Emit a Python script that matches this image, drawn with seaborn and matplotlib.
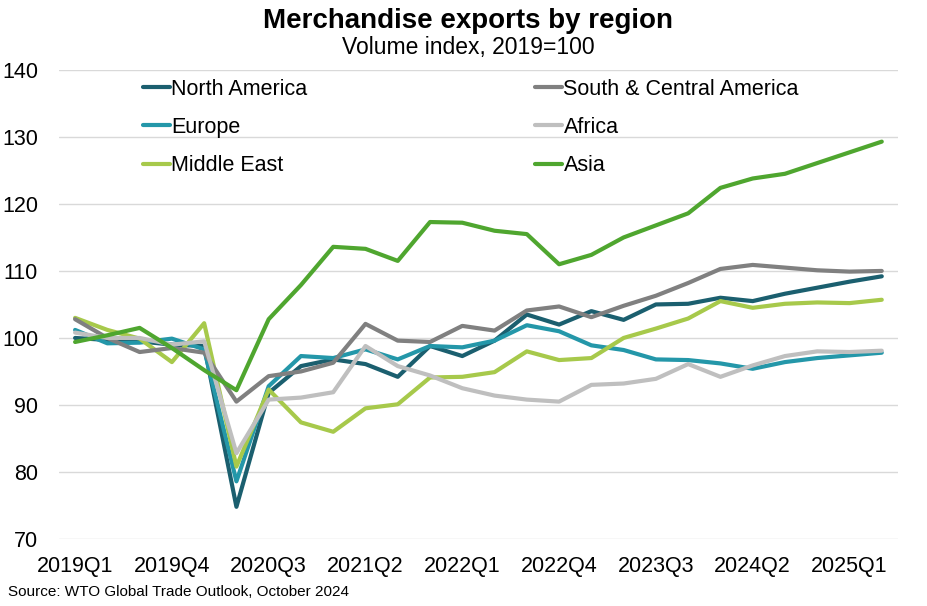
import matplotlib.pyplot as plt
import seaborn as sns
import pandas as pd

# quarters 2019Q1 .. 2025Q2
quarters = [f"{y}Q{q}" for y in range(2019, 2026) for q in range(1, 5)][:26]

north_america = [100.0, 99.7, 99.5, 99.0, 98.8, 74.8, 91.8, 95.8, 96.8, 96.1, 94.2, 98.8, 97.3,
                 99.6, 103.5, 102.0, 104.0, 102.7, 105.0, 105.1, 106.0, 105.5, 106.6, 107.5, 108.4, 109.2]
south_central_america = [102.8, 100.0, 97.9, 98.5, 97.8, 90.5, 94.3, 95.0, 96.3, 102.1, 99.6, 99.4, 101.8,
                         101.1, 104.1, 104.7, 103.1, 104.8, 106.3, 108.2, 110.3, 110.9, 110.5, 110.1, 109.9, 110.0]
europe = [101.2, 99.2, 99.3, 99.9, 98.3, 78.6, 92.8, 97.3, 97.0, 98.3, 96.8, 98.8, 98.6,
          99.6, 101.9, 101.0, 98.9, 98.2, 96.8, 96.7, 96.2, 95.4, 96.4, 97.0, 97.4, 97.8]
africa = [100.8, 100.0, 100.0, 99.0, 99.5, 82.8, 90.8, 91.1, 91.9, 98.8, 95.8, 94.4, 92.5,
          91.4, 90.8, 90.5, 93.0, 93.2, 93.9, 96.1, 94.2, 95.9, 97.3, 98.0, 97.9, 98.1]
middle_east = [103.0, 101.2, 99.9, 96.4, 102.2, 80.8, 92.3, 87.4, 86.0, 89.5, 90.1, 94.1, 94.2,
               94.9, 98.0, 96.7, 97.0, 100.0, 101.4, 102.9, 105.5, 104.5, 105.1, 105.3, 105.2, 105.7]
asia = [99.4, 100.4, 101.5, 98.5, 95.2, 92.2, 102.8, 107.9, 113.6, 113.3, 111.5, 117.3, 117.2,
        116.0, 115.5, 111.0, 112.4, 115.0, 116.8, 118.6, 122.4, 123.8, 124.5, 126.1, 127.7, 129.3]

regions = ["North America", "Europe", "Middle East", "South & Central America", "Africa", "Asia"]
colors = ["#1b5f6f", "#2497a9", "#a7c94b", "#808080", "#bfbfbf", "#4fa62f"]

series = {
    "North America": north_america,
    "Europe": europe,
    "Middle East": middle_east,
    "South & Central America": south_central_america,
    "Africa": africa,
    "Asia": asia,
}

df = pd.DataFrame(series)
df["pos"] = range(len(quarters))
long_df = df.melt(id_vars="pos", var_name="region", value_name="index")

sns.set_theme(style="white")
plt.rcParams["font.family"] = ["Liberation Sans", "DejaVu Sans"]
plt.rcParams["text.color"] = "black"

fig = plt.figure(figsize=(9.27, 6.06), dpi=100)
ax = fig.add_axes([0.0636, 0.1106, 0.905, 0.774])

sns.lineplot(data=long_df, x="pos", y="index", hue="region", hue_order=regions,
             palette=dict(zip(regions, colors)), linewidth=3, ax=ax, legend=True)

ax.set_xlim(-0.5, len(quarters) - 0.5)
ax.set_ylim(70, 140)
ax.set_yticks(range(70, 141, 10))
ax.set_xticks(range(0, len(quarters), 3))
ax.set_xticklabels(quarters[::3])
ax.tick_params(axis="both", labelsize=15.5, length=0, colors="black")
ax.tick_params(axis="x", pad=12)
ax.tick_params(axis="y", pad=15)
ax.set_xlabel("")
ax.set_ylabel("")
ax.grid(axis="y", color="#d9d9d9", linewidth=1)
ax.set_axisbelow(True)
for s in ax.spines.values():
    s.set_visible(False)

handles, labels = ax.get_legend_handles_labels()
ax.legend(handles, labels, ncol=2, loc="upper left", bbox_to_anchor=(0.085, 1.009),
          frameon=False, fontsize=15.5, handlelength=1.25, handletextpad=0.05,
          columnspacing=10.6, labelspacing=0.8, borderaxespad=0.2, labelcolor="black")

fig.text(0.505, 0.965, "Merchandise exports by region", ha="center", va="center",
         fontsize=20, fontweight="bold", color="black")
fig.text(0.505, 0.921, "Volume index, 2019=100", ha="center", va="center", fontsize=16.5,
         color="black")
fig.text(0.009, 0.023, "Source: WTO Global Trade Outlook, October 2024", ha="left", va="center",
         fontsize=11, color="black")

fig.savefig("out.png", dpi=100)
